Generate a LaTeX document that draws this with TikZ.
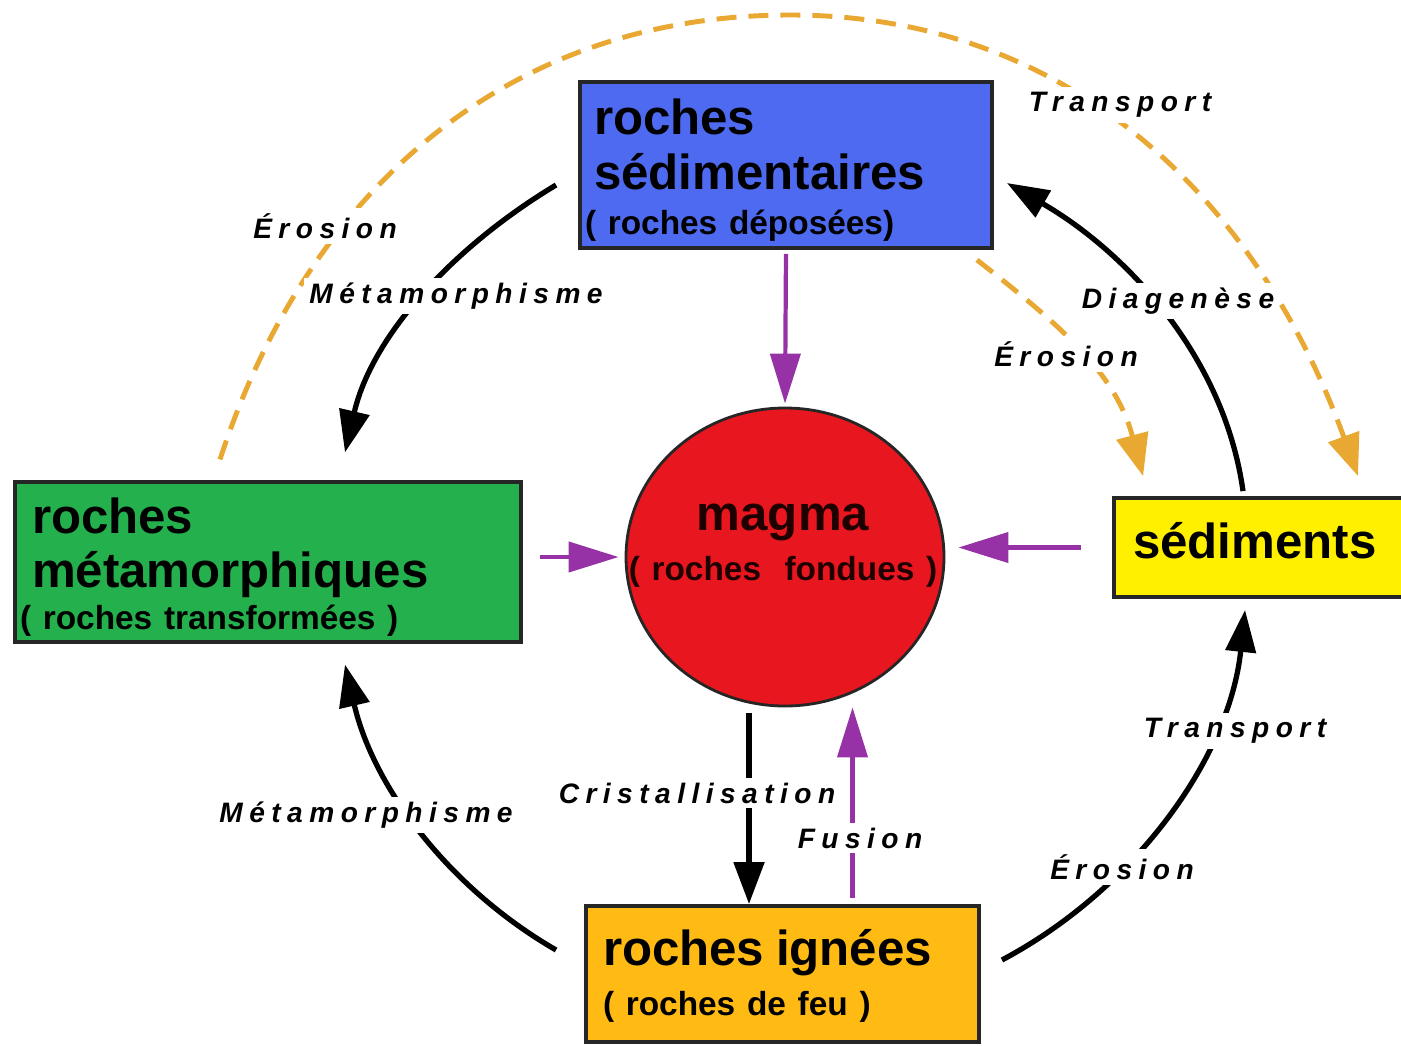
\documentclass[tikz,border=0pt]{standalone}
\usepackage{fontspec}
\setmainfont{Liberation Sans}
\newfontfamily\lblfont[LetterSpace=23]{Liberation Sans}
\usetikzlibrary{arrows.meta, shapes.geometric}
\definecolor{SedBlue}{RGB}{78, 106, 240}
\definecolor{MetaGreen}{RGB}{36, 176, 76}
\definecolor{SediYellow}{RGB}{255, 240, 0}
\definecolor{IgnOrange}{RGB}{255, 186, 20}
\definecolor{MagmaRed}{RGB}{232, 22, 30}
\definecolor{MeltPurple}{RGB}{150, 50, 165}
\definecolor{HaulOrange}{RGB}{232, 168, 50}
\newcommand{\boxtitle}{\fontsize{14}{15.4}\selectfont\bfseries}
\newcommand{\boxsub}[1]{\fontsize{9.5}{#1}\selectfont\bfseries}

\begin{document}
\begin{tikzpicture}[font=\bfseries,
    rockbox/.style={draw=black!85, line width=1.1pt, align=left, inner ysep=0.05cm},
    cyc/.style={line width=1.5pt, -{Triangle[length=0.42cm, width=0.3cm]}},
    melt/.style={draw=MeltPurple, line width=1.2pt, -{Triangle[length=0.5cm, width=0.3cm]}},
    haul/.style={draw=HaulOrange, line width=1.4pt, dash pattern=on 0.2cm off 0.12cm, -{Triangle[length=0.42cm, width=0.32cm]}},
    proc/.style={font=\lblfont\bfseries\itshape\fontsize{8}{9}\selectfont, fill=white, inner sep=0.05cm}
  ]
  \useasboundingbox (0,0) rectangle (14.01,-10.45);

  \node[rockbox, fill=SedBlue, minimum width=4.12cm, minimum height=1.66cm, inner xsep=0.14cm, text width=3.84cm] (sed) at (7.86,-1.65)
    {\boxtitle\rule{0pt}{0.46cm}roches\\sédimentaires\par\boxsub{12.8pt}\hspace*{-0.09cm}( roches déposées)\par};
  \node[rockbox, fill=MetaGreen, minimum width=5.06cm, minimum height=1.58cm, inner xsep=0.17cm, text width=4.72cm] (meta) at (2.68,-5.62)
    {\boxtitle\rule{0pt}{0.46cm}roches\\métamorphiques\par\boxsub{12pt}\hspace*{-0.12cm}( roches transformées )\par};
  \node[rockbox, fill=IgnOrange, minimum width=3.93cm, minimum height=1.36cm, inner xsep=0.17cm, text width=3.59cm] (ign) at (7.825,-9.74)
    {\boxtitle\rule{0pt}{0.4cm}roches ignées\par\boxsub{14.2pt}( roches de feu )\par};
  \node[rockbox, fill=SediYellow, minimum width=2.96cm, minimum height=0.99cm, inner xsep=0.19cm, text width=2.58cm, text depth=0.14cm] (sedi) at (12.62,-5.475)
    {\boxtitle sédiments};
  \node[ellipse, draw=black!85, line width=0.8pt, fill=MagmaRed, minimum width=3.18cm, minimum height=2.98cm, inner sep=0] (magma) at (7.85,-5.57) {};
  \node[align=center, text width=3.2cm, text=black!88!red] (magmatxt) at (7.83,-5.455)
    {\boxtitle magma\par\boxsub{14.2pt}( roches~ fondues )\par};

  % cycle arcs
  \draw[cyc] ([xshift=-0.22cm, yshift=-0.2cm]sed.west) to[out=211, in=77, looseness=0.9] ([xshift=0.77cm, yshift=0.28cm]meta.north);
  \draw[cyc] ([xshift=-0.28cm, yshift=0.24cm]ign.west) to[out=150, in=283, looseness=0.9] ([xshift=0.77cm, yshift=-0.21cm]meta.south);
  \draw[cyc] ([xshift=0.21cm, yshift=0.14cm]ign.east) to[out=28, in=264, looseness=0.9] ([xshift=-0.17cm, yshift=-0.11cm]sedi.south);
  \draw[cyc] ([xshift=-0.19cm, yshift=0.05cm]sedi.north) to[out=98, in=330, looseness=0.9] ([xshift=0.13cm, yshift=-0.18cm]sed.east);
  \draw[cyc, shorten <=0.06cm] ([xshift=-0.36cm]magma.south) -- ([xshift=-0.36cm]magma.south |- ign.north);

  % melting
  \draw[melt, shorten <=0.04cm, shorten >=0.03cm] (sed.south) -- (magma.north);
  \draw[melt, shorten <=0.17cm, shorten >=0.06cm] (meta.east |- magma.west) -- (magma.west);
  \draw[melt, shorten <=0.31cm, shorten >=0.13cm] (sedi.west) -- (sedi.west -| magma.east);
  \draw[melt, shorten <=0.06cm] ([xshift=0.7cm]ign.north) -- ([xshift=0.7cm]ign.north |- magma.south);

  % erosion and transport
  \coordinate (arctop) at (7.90,-0.15);
  \draw[haul] ([xshift=-0.48cm, yshift=0.21cm]meta.north) to[out=72, in=180] (arctop) to[out=0, in=110] ([xshift=0.96cm, yshift=0.2cm]sedi.north);
  \draw[haul] ([xshift=-0.17cm, yshift=-0.1cm]sed.south east) to[out=-38, in=105] ([xshift=0.31cm, yshift=0.2cm]sedi.north west);

  \node[proc] (erosleft) at (3.25,-2.26) {Érosion};
  \node[proc] (metatop) at (4.56,-2.96) {Métamorphisme};
  \node[proc] (transtop) at (11.20,-1.05) {Transport};
  \node[proc] (diag) at (11.78,-3.01) {Diagenèse};
  \node[proc] (erosright) at (10.66,-3.54) {Érosion};
  \node[proc] (translow) at (12.35,-7.31) {Transport};
  \node[proc] (eroslow) at (11.22,-8.67) {Érosion};
  \node[proc] (crist) at (6.97,-7.93) {Cristallisation};
  \node[proc] (fusion) at (8.60,-8.38) {Fusion};
  \node[proc] (metalow) at (3.66,-8.15) {Métamorphisme};
\end{tikzpicture}
\end{document}
